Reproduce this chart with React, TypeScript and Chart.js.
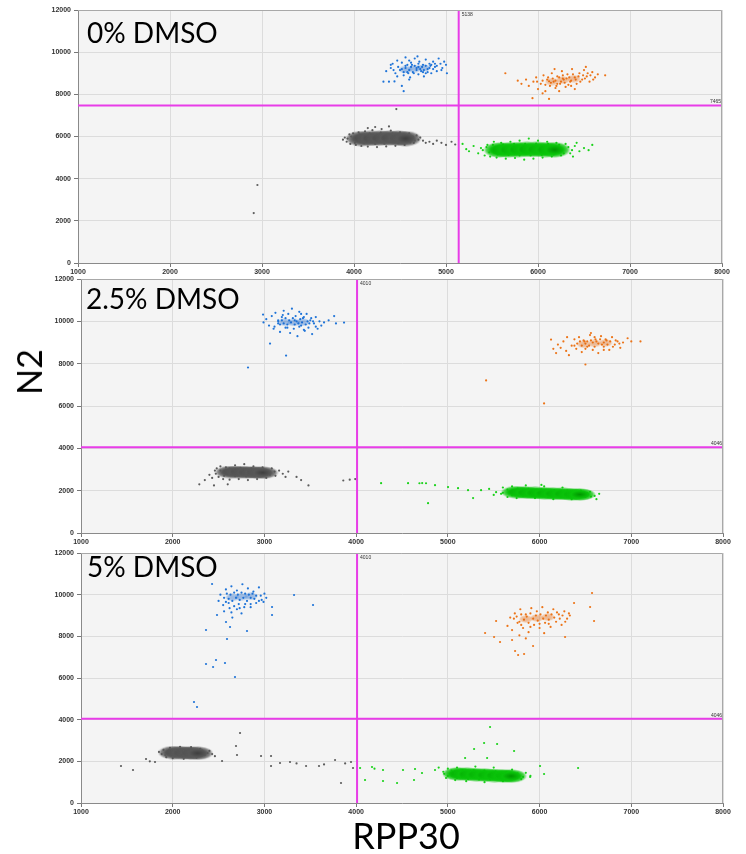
import { useEffect, useRef } from "react";
import { Chart, registerables } from "chart.js";
Chart.register(...registerables);

// ---- axes / labels ----
const xMin = 1000;
const xMax = 8000;
const xStep = 1000;
const yMin = 0;
const yMax = 12000;
const yStep = 2000;
const panelLabels = ["0% DMSO", "2.5% DMSO", "5% DMSO"];
const thresholdX = [5138, 4010, 4010];
const thresholdY = [7465, 4046, 4046];
const xAxisTitle = "RPP30";
const yAxisTitle = "N2";

// ---- panel 1 (0% DMSO) ----
const p1BlueCore = [4560, 9180, 4660, 9220, 4760, 9250];
const p1Blue = [4320, 8600, 4380, 8600, 4440, 8610, 4520, 8400, 4540, 8150, 4350, 9100, 4400, 9250, 4420, 9450, 4450, 9000, 4480, 9300, 4500, 9150, 4520, 9500, 4540, 8900, 4560, 9350, 4580, 9050, 4600, 9600, 4610, 8800, 4630, 9400, 4650, 9000, 4660, 9700, 4680, 9250, 4700, 8950, 4710, 9550, 4730, 9100, 4750, 9400, 4760, 8850, 4780, 9650, 4800, 9200, 4820, 9450, 4840, 9000, 4860, 9550, 4880, 9300, 4900, 9100, 4920, 9700, 4940, 9450, 4960, 9250, 4980, 9550, 5000, 9400, 5010, 9000, 4470, 9600, 4560, 9750, 4690, 9800, 4600, 8700, 4470, 8850, 4750, 9050, 4830, 9350,
  4520, 9200, 4540, 9050, 4560, 9250, 4580, 9400, 4600, 9150, 4620, 9300, 4640, 9050, 4660, 9350, 4680, 9150, 4700, 9300, 4720, 9200, 4740, 9300, 4760, 9150, 4780, 9350, 4800, 9050, 4820, 9250, 4840, 9400, 4860, 9200, 4880, 9450, 4900, 9350, 4620, 9500, 4700, 9450, 4590, 9000, 4780, 9000, 4950, 9150, 4400, 9400, 4430, 9150];
const p1OrangeCore = [6150, 8600, 6270, 8680, 6390, 8740];
const p1Orange = [5645, 9000, 5940, 7820, 6120, 7780, 6730, 8900, 5780, 8650, 5820, 8500, 5870, 8700, 5900, 8400, 5950, 8600, 5980, 8800, 6000, 8250, 6030, 8500, 6060, 8900, 6080, 8150, 6100, 8700, 6130, 8400, 6150, 9000, 6170, 8600, 6190, 8300, 6210, 8850, 6240, 8500, 6260, 9100, 6280, 8700, 6300, 8350, 6320, 8950, 6350, 8600, 6370, 9200, 6400, 8800, 6420, 8500, 6450, 9000, 6480, 8700, 6500, 9150, 6530, 8850, 6560, 8600, 6590, 9050, 6620, 8800, 6650, 8950, 6050, 8050, 6230, 8150, 6400, 8250, 6180, 9200, 6520, 9300, 6330, 8450, 6120, 8620, 6270, 8750,
  6050, 8650, 6080, 8450, 6110, 8800, 6140, 8550, 6160, 8750, 6190, 8650, 6210, 8500, 6230, 8800, 6250, 8600, 6270, 8900, 6290, 8550, 6310, 8750, 6340, 8800, 6360, 8650, 6380, 8950, 6410, 8700, 6440, 8850, 6460, 8600, 6490, 8900, 6510, 8750, 6540, 9000, 6570, 8900, 6600, 8700, 6200, 8400, 6360, 8400, 5990, 8600];
const p1GrayCore = [4080, 5900, 4180, 5910, 4280, 5920, 4380, 5930, 4480, 5920, 4560, 5900];
const p1Gray = [3880, 5850, 3900, 5950, 3920, 5750, 3950, 6100, 3960, 5650, 3990, 6150, 4020, 5600, 4050, 6200, 4080, 5550, 4120, 6250, 4150, 5520, 4200, 6300, 4250, 5500, 4300, 6350, 4350, 5530, 4400, 6280, 4450, 5560, 4500, 6200, 4550, 5600, 4600, 6150, 4650, 5700, 4680, 6050, 4700, 5850, 4720, 5950, 4750, 5800, 4780, 5700, 4820, 5750, 4860, 5650, 4900, 5800, 4950, 5700, 5000, 5600, 5060, 5750, 5100, 5620, 4460, 7300, 2950, 3700, 2910, 2370, 4230, 6450, 4380, 6480, 4150, 6400,
  3930, 5900, 3970, 6000, 4010, 5700, 4060, 6100, 4110, 5680, 4170, 6150, 4230, 5650, 4290, 6180, 4330, 5660, 4420, 6150, 4480, 5680, 4540, 6100, 4610, 5720, 4640, 6000, 4660, 5800];
const p1GreenCore = [5580, 5360, 5680, 5370, 5780, 5380, 5880, 5390, 5980, 5390, 6080, 5380, 6180, 5370];
const p1Green = [5180, 5650, 5220, 5400, 5300, 5550, 5350, 5200, 5380, 5450, 5420, 5100, 5450, 5600, 5480, 5050, 5520, 5750, 5550, 5000, 5600, 5700, 5650, 4950, 5700, 5750, 5750, 4980, 5800, 5800, 5850, 4900, 5900, 5900, 5950, 4950, 6000, 5800, 6050, 5000, 6100, 5750, 6150, 5050, 6200, 5700, 6250, 5100, 6300, 5650, 6350, 5200, 6400, 5550, 6450, 5300, 6500, 5450, 6550, 5350, 6590, 5600, 5250, 5300, 6380, 5050, 6420, 5700,
  5400, 5350, 5440, 5500, 5470, 5250, 5510, 5600, 5560, 5150, 5620, 5620, 5680, 5120, 5740, 5650, 5800, 5100, 5860, 5650, 5920, 5100, 5980, 5660, 6040, 5120, 6110, 5650, 6170, 5150, 6230, 5600, 6280, 5200, 6330, 5500, 6370, 5350];

// ---- panel 2 (2.5% DMSO) ----
const p2BlueCore = [3220, 9960, 3320, 9950, 3420, 9960];
const p2Blue = [2985, 10320, 2990, 9950, 3020, 10100, 3050, 9800, 3080, 10250, 3100, 9650, 3120, 10400, 3150, 9900, 3170, 9500, 3190, 10200, 3210, 10500, 3230, 9700, 3260, 10350, 3280, 9450, 3300, 10600, 3320, 9650, 3340, 10250, 3360, 9300, 3380, 10450, 3400, 9800, 3420, 10150, 3440, 9550, 3460, 10350, 3480, 9700, 3500, 10050, 3520, 9400, 3540, 9900, 3560, 10200, 3580, 9650, 3600, 10000, 3620, 9800, 3650, 9950, 3700, 10050, 3760, 10250, 3780, 9900, 3868, 9940, 3061, 8950, 3236, 8384, 2821, 7819, 3150, 10050, 3330, 10050, 3430, 9600,
  3150, 10000, 3170, 9850, 3190, 10050, 3210, 9900, 3230, 10150, 3250, 9850, 3270, 10050, 3290, 9950, 3310, 10150, 3330, 9850, 3350, 10000, 3370, 9900, 3390, 10100, 3410, 9950, 3430, 10200, 3450, 9850, 3470, 10000, 3490, 9900, 3510, 10150, 3530, 10000, 3250, 9700, 3380, 9750, 3200, 10300, 3400, 10350, 3560, 9750, 3110, 9750];
const p2OrangeCore = [6480, 8920, 6600, 8960, 6720, 8980];
const p2Orange = [6125, 9140, 6150, 8700, 6180, 8500, 6200, 8900, 6230, 8750, 6260, 9050, 6290, 8600, 6320, 8400, 6350, 8850, 6380, 9150, 6400, 8700, 6430, 9250, 6460, 8550, 6490, 9050, 6520, 8800, 6550, 9350, 6580, 8650, 6610, 9150, 6640, 8500, 6670, 9300, 6700, 8800, 6730, 9100, 6760, 8650, 6790, 9250, 6820, 8900, 6850, 9050, 6880, 8750, 6910, 9000, 6960, 9200, 7000, 9050, 7100, 9050, 6500, 7960, 5417, 7207, 6049, 6123, 6560, 9450, 6300, 9250,
  6380, 8850, 6410, 8950, 6440, 9050, 6460, 8850, 6480, 9100, 6500, 8950, 6520, 9050, 6540, 8850, 6560, 9100, 6580, 9000, 6600, 8800, 6620, 9050, 6640, 8950, 6660, 9150, 6680, 8900, 6700, 9000, 6720, 9150, 6740, 8900, 6770, 9050, 6800, 8800, 6830, 9100, 6870, 8950, 6500, 8700, 6700, 8650, 6600, 9250];
const p2GrayCore = [2630, 2880, 2720, 2880, 2810, 2870, 2900, 2860, 2980, 2850];
const p2Gray = [2290, 2300, 2350, 2500, 2400, 2750, 2430, 2600, 2460, 2950, 2480, 3050, 2500, 2650, 2520, 3150, 2550, 2550, 2580, 3100, 2620, 2520, 2680, 3200, 2720, 2550, 2780, 3250, 2820, 2500, 2880, 3150, 2920, 2550, 2980, 3100, 3020, 2600, 3080, 3050, 3120, 2700, 3160, 2950, 3200, 2800, 3230, 2650, 3260, 2900, 2450, 2250, 2600, 2300, 3400, 2500, 3480, 2250, 3860, 2480, 3930, 2520, 3990, 2550, 3350, 2650,
  2470, 2800, 2520, 2950, 2560, 2700, 2620, 3050, 2680, 2680, 2740, 3080, 2800, 2670, 2860, 3050, 2930, 2700, 2990, 3000, 3060, 2750, 3110, 2900];
const p2GreenCore = [5750, 1930, 5850, 1910, 5950, 1890, 6050, 1880, 6150, 1860, 6250, 1850, 6350, 1830, 6440, 1820];
const p2Green = [4272, 2355, 4566, 2355, 4690, 2350, 4720, 2360, 4762, 2350, 4860, 2260, 5002, 2170, 5111, 2120, 5220, 2025, 5275, 1650, 5362, 2025, 4784, 1410, 5526, 1930, 5450, 2080, 5580, 1850, 5600, 2150, 5650, 1700, 5700, 2200, 5750, 1650, 5850, 2250, 5950, 1650, 6050, 2200, 6150, 1600, 6250, 2150, 6350, 1600, 6450, 2000, 6500, 1700, 6550, 1950, 6600, 1750, 6650, 1850, 6620, 1600, 6020, 2270, 5500, 1800,
  5600, 1900, 5650, 2050, 5700, 1780, 5760, 2100, 5820, 1750, 5880, 2080, 5950, 1730, 6020, 2060, 6090, 1700, 6160, 2030, 6230, 1700, 6300, 2000, 6370, 1690, 6430, 1950, 6520, 1880, 6560, 1720];

// ---- panel 3 (5% DMSO) ----
const p3BlueCore = [2650, 9870, 2750, 9900, 2850, 9920];
const p3Blue = [2500, 9700, 2520, 10000, 2550, 9500, 2580, 10250, 2610, 9600, 2640, 10400, 2670, 9450, 2700, 10200, 2730, 9350, 2760, 10500, 2790, 9550, 2820, 10300, 2850, 9400, 2880, 10150, 2910, 9600, 2940, 10350, 2970, 9750, 3000, 10050, 3020, 9850, 2560, 9200, 2640, 9150, 2700, 9300, 2429, 10513, 3323, 9985, 3530, 9505, 3083, 9409, 3083, 9025, 2483, 9025, 2581, 8689, 2625, 8449, 2363, 8305, 2810, 8257, 2592, 7873, 2363, 6673, 2472, 6865, 2440, 6529, 2570, 6721, 2679, 6049, 2232, 4849, 2265, 4609, 2650, 8900, 2750, 9100,
  2560, 9850, 2590, 10050, 2610, 9800, 2630, 10000, 2650, 9700, 2670, 10100, 2690, 9850, 2710, 10000, 2730, 9750, 2750, 10100, 2770, 9850, 2790, 10050, 2810, 9700, 2830, 10000, 2850, 9850, 2870, 10050, 2890, 9800, 2910, 9950, 2940, 9700, 2960, 9950, 2990, 9650, 2620, 9350, 2780, 9400, 2720, 9550, 2850, 9550, 2580, 9650];
const p3OrangeCore = [5850, 8830, 5970, 8880, 6090, 8920];
const p3Orange = [5650, 8500, 5680, 8900, 5700, 8300, 5730, 9100, 5760, 8650, 5790, 9300, 5820, 8400, 5850, 9050, 5880, 8200, 5910, 9350, 5940, 8550, 5970, 9200, 6000, 8400, 6030, 9400, 6060, 8650, 6090, 9150, 6120, 8450, 6150, 9300, 6180, 8700, 6210, 9050, 6240, 8550, 6270, 9200, 6300, 8850, 6330, 9000, 5780, 8050, 5850, 7900, 6050, 8150, 6572, 10081, 6376, 9601, 6551, 9409, 6594, 8737, 5526, 8737, 5406, 8161, 5504, 7969, 5569, 7729, 5700, 7825, 5733, 7297, 5766, 7105, 5831, 7153, 5929, 7537, 6278, 7969,
  5720, 8850, 5750, 8950, 5780, 8700, 5800, 9050, 5830, 8800, 5860, 8950, 5880, 8650, 5900, 9100, 5930, 8850, 5960, 9000, 5980, 8750, 6010, 9050, 6040, 8850, 6070, 9000, 6100, 8800, 6130, 9050, 6160, 8900, 6190, 9150, 6220, 8850, 6250, 9000, 6280, 8700, 6320, 9100, 5900, 8450, 6000, 8600, 6100, 8600, 5800, 8550];
const p3GrayCore = [2010, 2420, 2100, 2410, 2190, 2400, 2270, 2390];
const p3Gray = [1880, 2350, 1900, 2550, 1930, 2200, 1970, 2650, 2000, 2150, 2080, 2700, 2120, 2120, 2200, 2680, 2260, 2180, 2300, 2600, 2350, 2300, 2400, 2500, 2430, 2350, 2460, 2250, 1436, 1776, 1567, 1584, 1709, 2112, 1807, 1968, 2538, 2016, 2701, 2304, 2690, 2736, 2734, 3360, 2963, 2256, 3072, 2256, 3072, 1776, 3170, 1920, 3279, 1968, 3454, 1776, 3595, 1776, 3770, 2064, 3835, 960, 3944, 1968, 3966, 1680, 1750, 2000, 3350, 1900, 3650, 1850, 3880, 1900,
  1850, 2450, 1920, 2300, 1960, 2550, 2020, 2250, 2080, 2580, 2140, 2240, 2200, 2560, 2260, 2270, 2320, 2520, 2380, 2400];
const p3GreenCore = [5110, 1400, 5210, 1380, 5310, 1360, 5410, 1340, 5510, 1320, 5610, 1300, 5690, 1290];
const p3Green = [4043, 1680, 4173, 1728, 4293, 1584, 4097, 1104, 4293, 1056, 4446, 960, 4511, 1584, 4631, 1104, 4642, 1632, 4718, 1440, 4860, 1584, 4950, 1500, 4980, 1200, 5000, 1650, 5080, 1100, 5100, 1700, 5200, 1050, 5300, 1750, 5400, 1000, 5500, 1700, 5600, 1050, 5700, 1600, 5800, 1150, 5850, 1450, 5900, 1300, 5460, 3648, 5395, 2880, 5537, 2832, 5286, 2592, 5722, 2496, 5188, 2160, 5428, 2160, 6005, 1776, 6049, 1392, 6420, 1680, 5897, 1248, 4200, 1650, 4900, 1700,
  4960, 1400, 5000, 1300, 5040, 1550, 5100, 1200, 5160, 1580, 5220, 1150, 5280, 1570, 5340, 1130, 5400, 1550, 5460, 1130, 5520, 1520, 5580, 1120, 5640, 1480, 5700, 1150, 5760, 1420, 5820, 1250, 5780, 1300];

const panelData = [
  { blueCore: p1BlueCore, blue: p1Blue, orangeCore: p1OrangeCore, orange: p1Orange, grayCore: p1GrayCore, gray: p1Gray, greenCore: p1GreenCore, green: p1Green },
  { blueCore: p2BlueCore, blue: p2Blue, orangeCore: p2OrangeCore, orange: p2Orange, grayCore: p2GrayCore, gray: p2Gray, greenCore: p2GreenCore, green: p2Green },
  { blueCore: p3BlueCore, blue: p3Blue, orangeCore: p3OrangeCore, orange: p3Orange, grayCore: p3GrayCore, gray: p3Gray, greenCore: p3GreenCore, green: p3Green },
];

// ---- layout (pixels) ----
const panelLayout = [
  { top: 0, height: 280, padTop: 10, yWidth: 78, padRight: 24, labelBaseline: 43, labelLeft: 87, coreH: 1 },
  { top: 270, height: 280, padTop: 9, yWidth: 81, padRight: 23, labelBaseline: 39, labelLeft: 86, coreH: 0.8 },
  { top: 543, height: 277, padTop: 10, yWidth: 81, padRight: 23, labelBaseline: 34, labelLeft: 87, coreH: 0.85 },
];

const COLORS = {
  blue: "#1f74d8",
  orange: "#ec7418",
  gray: "#5c5c5c",
  green: "#1ad21a",
  threshold: "#e83ce8",
};

function pts(a: number[]) {
  const r: { x: number; y: number }[] = [];
  for (let i = 0; i < a.length; i += 2) r.push({ x: a[i], y: a[i + 1] });
  return r;
}

// soft elliptical sprite used as point style for the dense cluster cores
function sprite(w: number, h: number, rgb: string, inner: string, alpha: number) {
  const c = document.createElement("canvas");
  c.width = w;
  c.height = h;
  const g = c.getContext("2d") as CanvasRenderingContext2D;
  g.translate(w / 2, h / 2);
  g.scale(w / 2, h / 2);
  const grad = g.createRadialGradient(0, 0, 0, 0, 0, 1);
  grad.addColorStop(0, `rgba(${inner},${alpha})`);
  grad.addColorStop(0.55, `rgba(${rgb},${alpha})`);
  grad.addColorStop(0.8, `rgba(${rgb},${alpha * 0.7})`);
  grad.addColorStop(1, `rgba(${rgb},0)`);
  g.fillStyle = grad;
  g.beginPath();
  g.arc(0, 0, 1, 0, Math.PI * 2);
  g.fill();
  return c;
}

function Panel({ idx }: { idx: number }) {
  const ref = useRef<HTMLCanvasElement | null>(null);
  useEffect(() => {
    const L = panelLayout[idx];
    const D = panelData[idx];
    const tx = thresholdX[idx];
    const ty = thresholdY[idx];
    const sGray = sprite(32, Math.round(16 * L.coreH), "88,88,88", "62,62,62", 1);
    const sGreen = sprite(32, Math.round(16 * L.coreH), "10,196,10", "0,150,0", 1);
    const sBlue = sprite(14, 8, "30,110,210", "20,90,190", 0.4);
    const sOrange = sprite(14, 8, "232,110,20", "215,95,10", 0.4);
    const scatter = (data: number[], color: string, r: number) => ({
      type: "scatter" as const,
      data: pts(data),
      backgroundColor: color,
      borderWidth: 0,
      pointRadius: r,
      pointHoverRadius: r,
      order: 2,
    });
    const core = (data: number[], img: HTMLCanvasElement) => ({
      type: "scatter" as const,
      data: pts(data),
      pointStyle: img,
      pointRadius: 8,
      pointHoverRadius: 8,
      order: 1,
    });
    const deco = {
      id: "deco" + idx,
      beforeDraw(chart: any) {
        const { ctx, chartArea: a } = chart;
        ctx.save();
        ctx.fillStyle = "#f4f4f4";
        ctx.fillRect(a.left, a.top, a.right - a.left, a.bottom - a.top);
        ctx.restore();
      },
      afterDraw(chart: any) {
        const { ctx, chartArea: a, scales } = chart;
        ctx.save();
        ctx.strokeStyle = "#a8a8a8";
        ctx.lineWidth = 1;
        ctx.beginPath();
        ctx.moveTo(a.left, a.top + 0.5);
        ctx.lineTo(a.right - 0.5, a.top + 0.5);
        ctx.lineTo(a.right - 0.5, a.bottom);
        ctx.stroke();
        ctx.fillStyle = "#333";
        ctx.font = "5px 'Liberation Sans', sans-serif";
        ctx.textBaseline = "top";
        ctx.textAlign = "left";
        ctx.fillText(String(tx), scales.x.getPixelForValue(tx) + 3, a.top + 2);
        ctx.textAlign = "right";
        ctx.textBaseline = "bottom";
        ctx.fillText(String(ty), a.right - 1, scales.y.getPixelForValue(ty) - 1);
        ctx.fillStyle = "#000";
        ctx.font = "28px Lato, 'Liberation Sans', sans-serif";
        ctx.textAlign = "left";
        ctx.textBaseline = "alphabetic";
        ctx.fillText(panelLabels[idx], L.labelLeft, L.labelBaseline);
        ctx.restore();
      },
    };
    const tickFont = { size: 7, weight: "bold", family: "'Liberation Sans', sans-serif" };
    const chart = new Chart(ref.current as HTMLCanvasElement, {
      type: "scatter",
      data: {
        datasets: [
          {
            type: "line" as const,
            data: [{ x: tx, y: yMin }, { x: tx, y: yMax }],
            borderColor: COLORS.threshold,
            borderWidth: 2,
            pointRadius: 0,
            order: 0,
          },
          {
            type: "line" as const,
            data: [{ x: xMin, y: ty }, { x: xMax, y: ty }],
            borderColor: COLORS.threshold,
            borderWidth: 2,
            pointRadius: 0,
            order: 0,
          },
          core(D.blueCore, sBlue),
          scatter(D.blue, COLORS.blue, 1.1),
          core(D.orangeCore, sOrange),
          scatter(D.orange, COLORS.orange, 1.1),
          core(D.grayCore, sGray),
          scatter(D.gray, COLORS.gray, 1.1),
          core(D.greenCore, sGreen),
          scatter(D.green, COLORS.green, 1.1),
        ] as any,
      },
      options: {
        animation: false,
        responsive: false,
        devicePixelRatio: 1,
        layout: { padding: { top: L.padTop, right: L.padRight, left: 0, bottom: 0 } },
        plugins: { legend: { display: false }, tooltip: { enabled: false } },
        scales: {
          x: {
            type: "linear",
            min: xMin,
            max: xMax,
            afterFit: (s: any) => {
              s.height = 17;
            },
            ticks: {
              stepSize: xStep,
              padding: 1,
              maxRotation: 0,
              color: "#333",
              font: tickFont,
              callback: (v: any) => String(v),
            },
            grid: { color: "#dcdcdc", tickColor: "#777", tickLength: 4 },
            border: { color: "#8a8a8a", width: 1 },
          },
          y: {
            type: "linear",
            min: yMin,
            max: yMax,
            afterFit: (s: any) => {
              s.width = L.yWidth;
            },
            ticks: {
              stepSize: yStep,
              padding: 3,
              color: "#333",
              font: tickFont,
              callback: (v: any) => String(v),
            },
            grid: { color: "#dcdcdc", tickColor: "#777", tickLength: 4 },
            border: { color: "#8a8a8a", width: 1 },
          },
        },
      } as any,
      plugins: [deco],
    });
    return () => chart.destroy();
  }, [idx]);
  const L = panelLayout[idx];
  return (
    <canvas
      ref={ref}
      width={746}
      height={L.height}
      style={{ position: "absolute", left: 0, top: L.top, width: 746, height: L.height, display: "block" }}
    />
  );
}

export default function App() {
  return (
    <div style={{ position: "absolute", left: 0, top: 0, width: 746, height: 854, background: "#fff", overflow: "hidden" }}>
      {[0, 1, 2].map((i) => (
        <Panel key={i} idx={i} />
      ))}
      <div
        style={{
          position: "absolute",
          left: 29,
          top: 372,
          transform: "translate(-50%, -50%) rotate(-90deg)",
          fontFamily: "Lato, 'Liberation Sans', sans-serif",
          fontSize: 34,
          lineHeight: "34px",
          color: "#000",
          whiteSpace: "nowrap",
        }}
      >
        {yAxisTitle}
      </div>
      <div
        style={{
          position: "absolute",
          left: 406,
          top: 835,
          transform: "translate(-50%, -50%)",
          fontFamily: "Lato, 'Liberation Sans', sans-serif",
          fontSize: 36,
          lineHeight: "36px",
          color: "#000",
          whiteSpace: "nowrap",
        }}
      >
        {xAxisTitle}
      </div>
    </div>
  );
}
